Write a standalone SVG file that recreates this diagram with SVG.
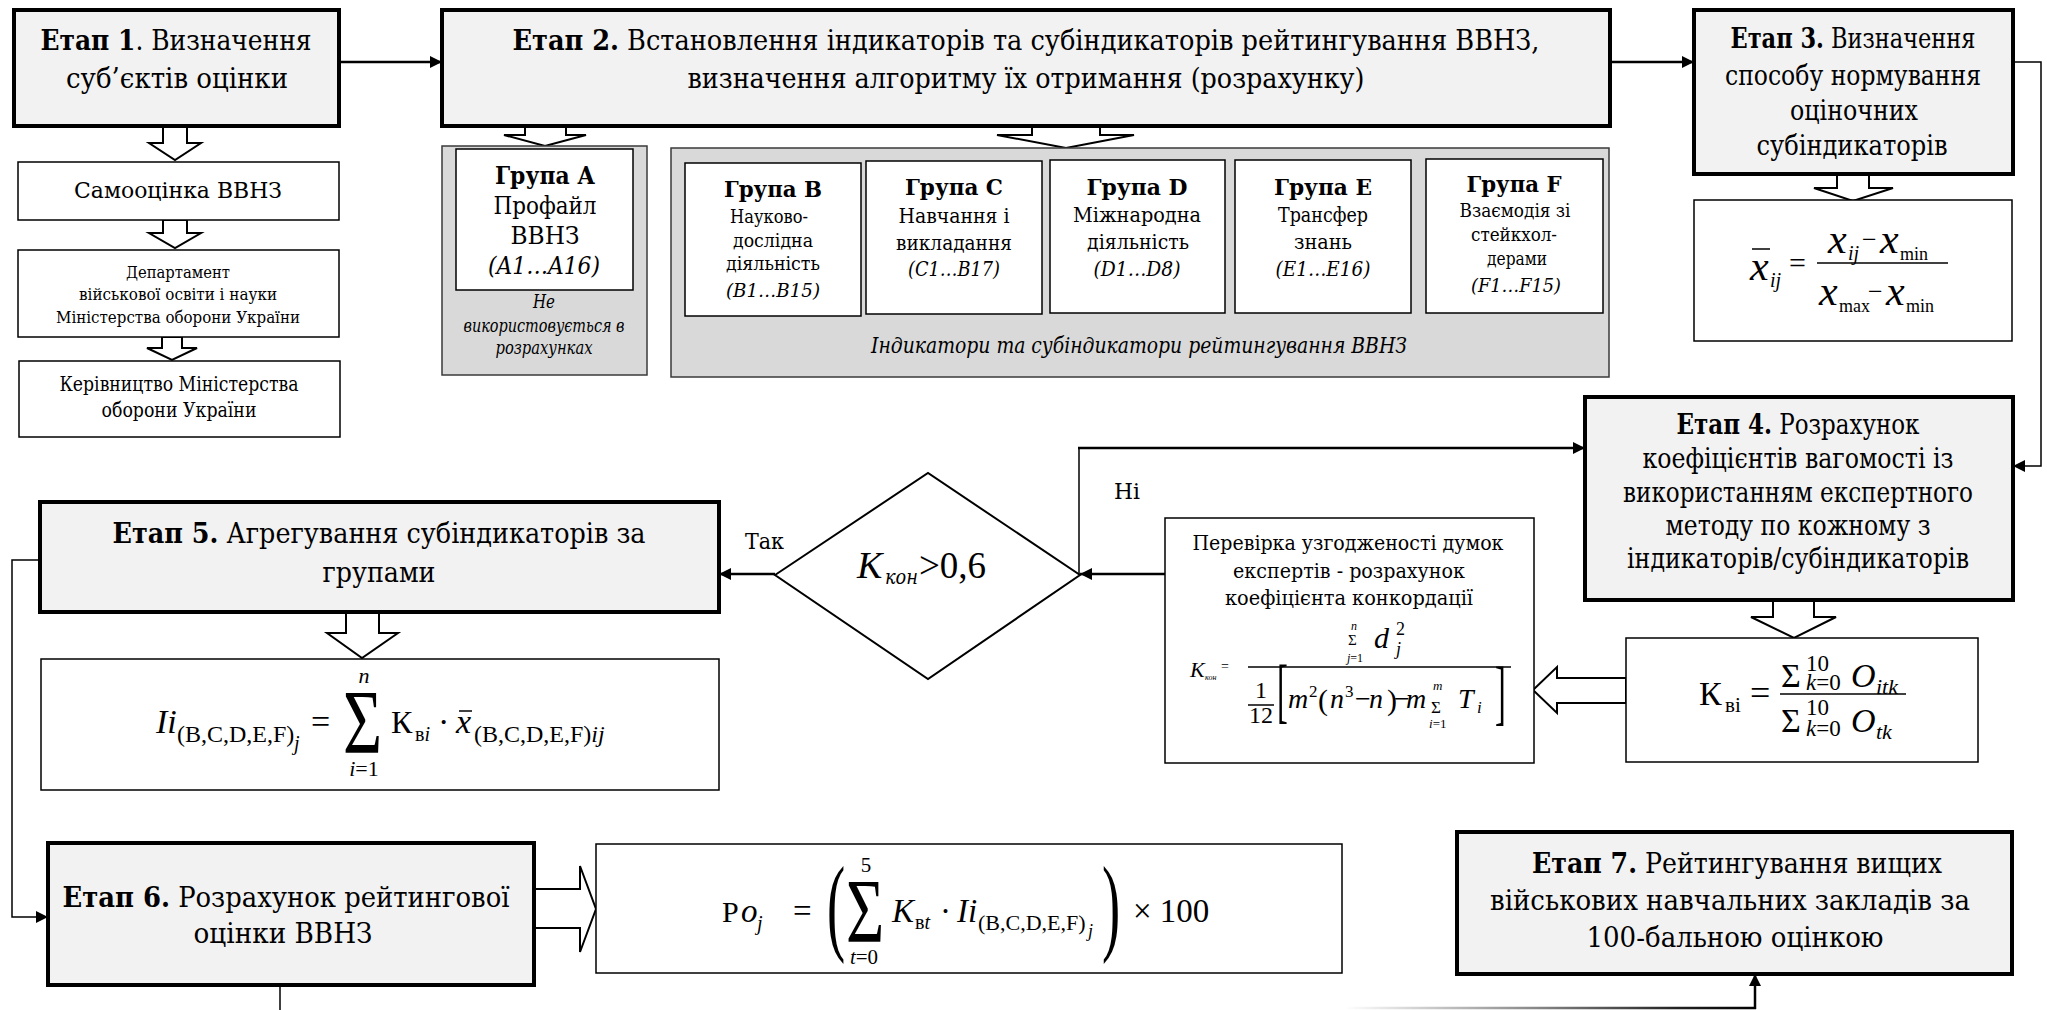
<svg xmlns="http://www.w3.org/2000/svg" width="2047" height="1010" viewBox="0 0 2047 1010">
<defs>
<style>
.stage{fill:#f2f2f2;stroke:#000;stroke-width:4}
.box{fill:#fff;stroke:#000;stroke-width:1.5}
.gray{fill:#d9d9d9;stroke:#3a3a3a;stroke-width:1.5}
.block{fill:#fff;stroke:#000;stroke-width:2;stroke-linejoin:miter}
.t{font-family:"DejaVu Serif Condensed","DejaVu Serif","Liberation Serif",serif;fill:#000}
.f{font-family:"Liberation Serif","DejaVu Serif",serif;fill:#000}
.st{font-size:28px;text-anchor:middle}
.b{font-weight:bold}
.i{font-style:italic}
.n{font-style:normal}
.m{text-anchor:middle}
.conn{stroke:#000;fill:none;stroke-width:2.5}
.thin{stroke-width:1.5}
.mline{stroke:#000;stroke-width:1.5}
</style>
<marker id="ah" viewBox="0 0 10 10" refX="10" refY="5" markerWidth="14" markerHeight="12" markerUnits="userSpaceOnUse" orient="auto">
<path d="M0,0 L10,5 L0,10 z" fill="#000"/>
</marker>
<linearGradient id="fade" gradientUnits="userSpaceOnUse" x1="1345" y1="0" x2="1760" y2="0">
<stop offset="0" stop-color="#ffffff"/>
<stop offset="0.45" stop-color="#8a8a8a"/>
<stop offset="0.8" stop-color="#222"/>
<stop offset="1" stop-color="#000"/>
</linearGradient>
</defs>
<rect width="2047" height="1010" fill="#fff"/>

<!-- Connectors -->
<g id="connectors">
<line class="conn" x1="339" y1="62" x2="442" y2="62" marker-end="url(#ah)"/>
<line class="conn" x1="1610" y1="62" x2="1694" y2="62" marker-end="url(#ah)"/>
<polyline class="conn thin" points="2013,62 2041,62 2041,466 2013,466" marker-end="url(#ah)"/>
<line class="conn" x1="1165" y1="574" x2="1080" y2="574" marker-end="url(#ah)"/>
<line class="conn" x1="775" y1="574" x2="719" y2="574" marker-end="url(#ah)"/>
<line class="conn thin" x1="1079" y1="574" x2="1079" y2="448"/>
<line class="conn" x1="1078" y1="448" x2="1585" y2="448" marker-end="url(#ah)"/>
<polyline class="conn thin" points="40,560 12,560 12,917 48,917" marker-end="url(#ah)"/>
<line class="conn thin" x1="280" y1="985" x2="280" y2="1010"/>
<line x1="1345" y1="1008" x2="1756" y2="1008" stroke="url(#fade)" stroke-width="2.5"/>
<line class="conn" x1="1755" y1="1009" x2="1755" y2="974" marker-end="url(#ah)"/>
<!-- block arrows -->
<polygon class="block" points="163,126 163,143 149,143 175,160 201,143 187,143 187,126"/>
<polygon class="block" points="163,220 163,233 149,233 175,248 201,233 187,233 187,220"/>
<polygon class="block" points="162,337 162,348 147,348 172,360 197,348 182,348 182,337"/>
<polygon class="block" points="525,126 525,135 504,135 545,146 586,135 566,135 566,126"/>
<polygon class="block" points="1032,126 1032,135 997,135 1066,148 1134,135 1100,135 1100,126"/>
<polygon class="block" points="1837,174 1837,188 1814,188 1853,201 1893,188 1869,188 1869,174"/>
<polygon class="block" points="1773,600 1773,617 1751,617 1794,638 1836,617 1814,617 1814,600"/>
<polygon class="block" points="1626,678 1557,678 1557,667 1533,690 1557,713 1557,703 1626,703"/>
<polygon class="block" points="346,612 346,633 327,633 362,658 398,633 379,633 379,612"/>
<polygon class="block" points="534,889 580,889 580,866 596,909 580,952 580,928 534,928"/>
</g>

<!-- Etap 1 -->
<g id="etap1">
<rect class="stage" x="14" y="10" width="325" height="116"/>
<text class="t st" x="176" y="50" textLength="271" lengthAdjust="spacingAndGlyphs"><tspan class="b">Етап 1</tspan>. Визначення</text>
<text class="t st" x="177" y="88" textLength="222" lengthAdjust="spacingAndGlyphs">суб’єктів оцінки</text>
</g>
<g id="samoocinka">
<rect class="box" x="18" y="162" width="321" height="58"/>
<text class="t m" x="178" y="198" font-size="23" textLength="208" lengthAdjust="spacingAndGlyphs">Самооцінка ВВНЗ</text>
</g>
<g id="department">
<rect class="box" x="18" y="250" width="321" height="87"/>
<text class="t m" x="178" y="278" font-size="17" textLength="104" lengthAdjust="spacingAndGlyphs">Департамент</text>
<text class="t m" x="178" y="300" font-size="17" textLength="198" lengthAdjust="spacingAndGlyphs">військової освіти і науки</text>
<text class="t m" x="178" y="323" font-size="17" textLength="244" lengthAdjust="spacingAndGlyphs">Міністерства оборони України</text>
</g>
<g id="kerivnytstvo">
<rect class="box" x="19" y="361" width="321" height="76"/>
<text class="t m" x="179" y="391" font-size="20" textLength="239" lengthAdjust="spacingAndGlyphs">Керівництво Міністерства</text>
<text class="t m" x="179" y="417" font-size="20" textLength="155" lengthAdjust="spacingAndGlyphs">оборони України</text>
</g>

<!-- Etap 2 -->
<g id="etap2">
<rect class="stage" x="442" y="10" width="1168" height="116"/>
<text class="t st" x="1026" y="50" textLength="1027" lengthAdjust="spacingAndGlyphs"><tspan class="b">Етап 2.</tspan> Встановлення індикаторів та субіндикаторів рейтингування ВВНЗ,</text>
<text class="t st" x="1026" y="88" textLength="677" lengthAdjust="spacingAndGlyphs">визначення алгоритму їх отримання (розрахунку)</text>
</g>

<!-- Group A -->
<g id="groupA">
<rect class="gray" x="442" y="146" width="205" height="229"/>
<rect class="box" x="456" y="149" width="177" height="141"/>
<text class="t m b" x="545" y="184" font-size="24" textLength="100" lengthAdjust="spacingAndGlyphs">Група А</text>
<text class="t m" x="545" y="214" font-size="24" textLength="103" lengthAdjust="spacingAndGlyphs">Профайл</text>
<text class="t m" x="545" y="244" font-size="24" textLength="69" lengthAdjust="spacingAndGlyphs">ВВНЗ</text>
<text class="t m i" x="544" y="274" font-size="24" textLength="112" lengthAdjust="spacingAndGlyphs">(A1…A16)</text>
<text class="t m i" x="544" y="308" font-size="18" textLength="22" lengthAdjust="spacingAndGlyphs">Не</text>
<text class="t m i" x="544" y="332" font-size="18" textLength="161" lengthAdjust="spacingAndGlyphs">використовується в</text>
<text class="t m i" x="544" y="354" font-size="18" textLength="97" lengthAdjust="spacingAndGlyphs">розрахунках</text>
</g>

<!-- Groups B-F -->
<g id="groupsBF">
<rect class="gray" x="671" y="148" width="938" height="229"/>
<text class="t m i" x="1139" y="353" font-size="22" textLength="536" lengthAdjust="spacingAndGlyphs">Індикатори та субіндикатори рейтингування ВВНЗ</text>
</g>
<g id="groupB">
<rect class="box" x="685" y="163" width="176" height="153"/>
<text class="t m b" x="773" y="197" font-size="23" textLength="98" lengthAdjust="spacingAndGlyphs">Група В</text>
<text class="t m" x="769" y="223" font-size="18" textLength="78" lengthAdjust="spacingAndGlyphs">Науково-</text>
<text class="t m" x="773" y="247" font-size="18" textLength="80" lengthAdjust="spacingAndGlyphs">дослідна</text>
<text class="t m" x="773" y="270" font-size="18" textLength="94" lengthAdjust="spacingAndGlyphs">діяльність</text>
<text class="t m i" x="773" y="297" font-size="18" textLength="94" lengthAdjust="spacingAndGlyphs">(B1…B15)</text>
</g>
<g id="groupC">
<rect class="box" x="866" y="161" width="176" height="153"/>
<text class="t m b" x="954" y="195" font-size="23" textLength="98" lengthAdjust="spacingAndGlyphs">Група С</text>
<text class="t m" x="954" y="223" font-size="21" textLength="111" lengthAdjust="spacingAndGlyphs">Навчання і</text>
<text class="t m" x="954" y="250" font-size="21" textLength="116" lengthAdjust="spacingAndGlyphs">викладання</text>
<text class="t m i" x="954" y="276" font-size="20" textLength="92" lengthAdjust="spacingAndGlyphs">(C1…B17)</text>
</g>
<g id="groupD">
<rect class="box" x="1050" y="160" width="175" height="153"/>
<text class="t m b" x="1137" y="195" font-size="23" textLength="101" lengthAdjust="spacingAndGlyphs">Група D</text>
<text class="t m" x="1137" y="222" font-size="21" textLength="128" lengthAdjust="spacingAndGlyphs">Міжнародна</text>
<text class="t m" x="1138" y="249" font-size="21" textLength="102" lengthAdjust="spacingAndGlyphs">діяльність</text>
<text class="t m i" x="1137" y="276" font-size="20" textLength="87" lengthAdjust="spacingAndGlyphs">(D1…D8)</text>
</g>
<g id="groupE">
<rect class="box" x="1235" y="160" width="176" height="153"/>
<text class="t m b" x="1323" y="195" font-size="23" textLength="98" lengthAdjust="spacingAndGlyphs">Група Е</text>
<text class="t m" x="1323" y="222" font-size="21" textLength="90" lengthAdjust="spacingAndGlyphs">Трансфер</text>
<text class="t m" x="1323" y="249" font-size="21" textLength="58" lengthAdjust="spacingAndGlyphs">знань</text>
<text class="t m i" x="1323" y="276" font-size="20" textLength="95" lengthAdjust="spacingAndGlyphs">(E1…E16)</text>
</g>
<g id="groupF">
<rect class="box" x="1426" y="159" width="177" height="154"/>
<text class="t m b" x="1514" y="192" font-size="23" textLength="95" lengthAdjust="spacingAndGlyphs">Група F</text>
<text class="t m" x="1515" y="217" font-size="18" textLength="111" lengthAdjust="spacingAndGlyphs">Взаємодія зі</text>
<text class="t m" x="1514" y="241" font-size="18" textLength="86" lengthAdjust="spacingAndGlyphs">стейкхол-</text>
<text class="t m" x="1517" y="265" font-size="18" textLength="60" lengthAdjust="spacingAndGlyphs">дерами</text>
<text class="t m i" x="1516" y="292" font-size="18" textLength="90" lengthAdjust="spacingAndGlyphs">(F1…F15)</text>
</g>

<!-- Etap 3 -->
<g id="etap3">
<rect class="stage" x="1694" y="10" width="319" height="164"/>
<text class="t st" x="1853" y="48" textLength="245" lengthAdjust="spacingAndGlyphs"><tspan class="b">Етап 3.</tspan> Визначення</text>
<text class="t st" x="1853" y="85" textLength="256" lengthAdjust="spacingAndGlyphs">способу нормування</text>
<text class="t st" x="1854" y="120" textLength="128" lengthAdjust="spacingAndGlyphs">оціночних</text>
<text class="t st" x="1852" y="155" textLength="191" lengthAdjust="spacingAndGlyphs">субіндикаторів</text>
</g>
<g id="formula-norm">
<rect class="box" x="1694" y="200" width="318" height="141"/>
<line class="mline" x1="1752" y1="249" x2="1770" y2="249" stroke-width="2"/>
<text class="f i" x="1750" y="280" font-size="42">x</text>
<text class="f i" x="1770" y="287" font-size="20">ij</text>
<text class="f" x="1789" y="273" font-size="30">=</text>
<text class="f i" x="1828" y="253" font-size="42">x</text>
<text class="f i" x="1848" y="260" font-size="20">ij</text>
<text class="f" x="1862" y="248" font-size="26">−</text>
<text class="f i" x="1880" y="253" font-size="42">x</text>
<text class="f" x="1900" y="260" font-size="18">min</text>
<line class="mline" x1="1817" y1="263" x2="1948" y2="263"/>
<text class="f i" x="1819" y="305" font-size="42">x</text>
<text class="f" x="1839" y="312" font-size="18">max</text>
<text class="f" x="1868" y="300" font-size="26">−</text>
<text class="f i" x="1886" y="305" font-size="42">x</text>
<text class="f" x="1906" y="312" font-size="18">min</text>
</g>

<!-- Etap 4 -->
<g id="etap4">
<rect class="stage" x="1585" y="397" width="428" height="203"/>
<text class="t st" x="1798" y="434" textLength="243" lengthAdjust="spacingAndGlyphs"><tspan class="b">Етап 4.</tspan> Розрахунок</text>
<text class="t st" x="1798" y="468" textLength="311" lengthAdjust="spacingAndGlyphs">коефіцієнтів вагомості із</text>
<text class="t st" x="1798" y="502" textLength="350" lengthAdjust="spacingAndGlyphs">використанням експертного</text>
<text class="t st" x="1798" y="535" textLength="265" lengthAdjust="spacingAndGlyphs">методу по кожному з</text>
<text class="t st" x="1798" y="568" textLength="342" lengthAdjust="spacingAndGlyphs">індикаторів/субіндикаторів</text>
</g>
<g id="formula-kv">
<rect class="box" x="1626" y="638" width="352" height="124"/>
<text class="f" x="1699" y="705" font-size="34">К</text>
<text class="f" x="1725" y="712" font-size="21">ві</text>
<text class="f" x="1750" y="705" font-size="36">=</text>
<text class="f" x="1781" y="687" font-size="34">Σ</text>
<text class="f" x="1806" y="671" font-size="23">10</text>
<text class="f" x="1806" y="690" font-size="23"><tspan class="i">k</tspan>=0</text>
<text class="f i" x="1851" y="687" font-size="34">O</text>
<text class="f i" x="1876" y="694" font-size="22">itk</text>
<line class="mline" x1="1780" y1="694" x2="1906" y2="694" stroke-width="2"/>
<text class="f" x="1781" y="732" font-size="34">Σ</text>
<text class="f" x="1806" y="715" font-size="23">10</text>
<text class="f" x="1806" y="736" font-size="23"><tspan class="i">k</tspan>=0</text>
<text class="f i" x="1851" y="732" font-size="34">O</text>
<text class="f i" x="1876" y="739" font-size="22">tk</text>
</g>

<!-- Concordance check -->
<g id="concordance">
<rect class="box" x="1165" y="518" width="369" height="245"/>
<text class="t m" x="1348" y="550" font-size="20" textLength="311" lengthAdjust="spacingAndGlyphs">Перевірка узгодженості думок</text>
<text class="t m" x="1349" y="578" font-size="20" textLength="232" lengthAdjust="spacingAndGlyphs">експертів - розрахунок</text>
<text class="t m" x="1349" y="605" font-size="20" textLength="248" lengthAdjust="spacingAndGlyphs">коефіцієнта конкордації</text>
<text class="f i" x="1190" y="677" font-size="22">K</text>
<text class="f i" x="1205" y="680" font-size="8">кон</text>
<text class="f" x="1221" y="671" font-size="14">=</text>
<text class="f" x="1348" y="645" font-size="15">Σ</text>
<text class="f i" x="1351" y="630" font-size="12">n</text>
<text class="f" x="1347" y="662" font-size="12"><tspan class="i">j</tspan>=1</text>
<text class="f i" x="1374" y="648" font-size="30">d</text>
<text class="f" x="1396" y="635" font-size="18">2</text>
<text class="f i" x="1396" y="655" font-size="18">j</text>
<line class="mline" x1="1248" y1="667" x2="1511" y2="667" stroke-width="1.2"/>
<text class="f" x="1255" y="698" font-size="24">1</text>
<line class="mline" x1="1248" y1="705" x2="1274" y2="705" stroke-width="1.2"/>
<text class="f" x="1249" y="723" font-size="24">12</text>
<text class="f" transform="translate(1277,714) scale(0.45,1)" font-size="72">[</text>
<text class="f i" x="1288" y="708" font-size="28">m</text>
<text class="f" x="1309" y="697" font-size="17">2</text>
<text class="f" x="1318" y="710" font-size="30">(</text>
<text class="f i" x="1330" y="708" font-size="28">n</text>
<text class="f" x="1345" y="697" font-size="17">3</text>
<text class="f" x="1355" y="708" font-size="28">−</text>
<text class="f i" x="1369" y="708" font-size="28">n</text>
<text class="f" x="1387" y="710" font-size="30">)</text>
<text class="f" x="1394" y="708" font-size="28">−</text>
<text class="f i" x="1406" y="708" font-size="28">m</text>
<text class="f" x="1431" y="713" font-size="17">Σ</text>
<text class="f i" x="1433" y="690" font-size="13">m</text>
<text class="f" x="1429" y="728" font-size="13"><tspan class="i">i</tspan>=1</text>
<text class="f i" x="1458" y="708" font-size="28">T</text>
<text class="f i" x="1477" y="713" font-size="17">i</text>
<text class="f" transform="translate(1495,716) scale(0.45,1)" font-size="72">]</text>
</g>

<!-- Decision -->
<g id="decision">
<polygon points="775,575 928,473 1080,575 928,679" fill="#fff" stroke="#000" stroke-width="2"/>
<text class="f i" x="857" y="578" font-size="38">K</text>
<text class="t i" x="885" y="584" font-size="20" textLength="33" lengthAdjust="spacingAndGlyphs">кон</text>
<text class="f" x="919" y="578" font-size="37">&gt;0,6</text>
</g>
<text id="label-tak" class="t" x="745" y="549" font-size="22" textLength="39" lengthAdjust="spacingAndGlyphs">Так</text>
<text id="label-ni" class="t" x="1114" y="499" font-size="22" textLength="26" lengthAdjust="spacingAndGlyphs">Ні</text>

<!-- Etap 5 -->
<g id="etap5">
<rect class="stage" x="40" y="502" width="679" height="110"/>
<text class="t st" x="379" y="543" textLength="533" lengthAdjust="spacingAndGlyphs"><tspan class="b">Етап 5.</tspan> Агрегування субіндикаторів за</text>
<text class="t st" x="379" y="582" textLength="113" lengthAdjust="spacingAndGlyphs">групами</text>
</g>
<g id="formula-agg">
<rect class="box" x="41" y="659" width="678" height="131"/>
<text class="f i" x="156" y="733" font-size="34">Ii</text>
<text class="f" x="177" y="742" font-size="24">(B,C,D,E,F)</text>
<text class="f i" x="294" y="750" font-size="20">j</text>
<text class="f" x="311" y="733" font-size="34">=</text>
<text class="f" transform="translate(343,753) scale(0.73,1)" font-size="92">Σ</text>
<text class="f i m" x="364" y="683" font-size="22">n</text>
<text class="f m" x="364" y="776" font-size="22"><tspan class="i">i</tspan>=1</text>
<text class="f" x="391" y="733" font-size="32">К</text>
<text class="f" x="415" y="741" font-size="20">в<tspan class="i">i</tspan></text>
<text class="f" x="438" y="733" font-size="34">·</text>
<text class="f i" x="456" y="733" font-size="34">x</text>
<line class="mline" x1="459" y1="711" x2="472" y2="711"/>
<text class="f" x="474" y="742" font-size="24">(B,C,D,E,F)<tspan class="i">ij</tspan></text>
</g>

<!-- Etap 6 -->
<g id="etap6">
<rect class="stage" x="48" y="843" width="486" height="142"/>
<text class="t st" x="286" y="907" textLength="447" lengthAdjust="spacingAndGlyphs"><tspan class="b">Етап 6.</tspan> Розрахунок рейтингової</text>
<text class="t st" x="283" y="943" textLength="179" lengthAdjust="spacingAndGlyphs">оцінки ВВНЗ</text>
</g>
<g id="formula-rating">
<rect class="box" x="596" y="844" width="746" height="129"/>
<text class="f" x="722" y="922" font-size="30">Р</text>
<text class="f i" x="741" y="922" font-size="33">o</text>
<text class="f i" x="757" y="930" font-size="20">j</text>
<text class="f" x="793" y="922" font-size="33">=</text>
<text class="f" transform="translate(827,941) scale(0.5,1)" font-size="109">(</text>
<text class="f" transform="translate(846,942) scale(0.73,1)" font-size="90">Σ</text>
<text class="f m" x="866" y="872" font-size="21">5</text>
<text class="f m" x="864" y="964" font-size="21"><tspan class="i">t</tspan>=0</text>
<text class="f i" x="892" y="922" font-size="33">K</text>
<text class="f" x="915" y="929" font-size="20">в<tspan class="i">t</tspan></text>
<text class="f" x="940" y="922" font-size="33">·</text>
<text class="f i" x="957" y="922" font-size="33">Ii</text>
<text class="f" x="978" y="930" font-size="22">(B,C,D,E,F)</text>
<text class="f i" x="1088" y="937" font-size="18">j</text>
<text class="f" transform="translate(1102,941) scale(0.5,1)" font-size="109">)</text>
<text class="f" x="1133" y="922" font-size="33">× 100</text>
</g>

<!-- Etap 7 -->
<g id="etap7">
<rect class="stage" x="1457" y="832" width="555" height="142"/>
<text class="t st" x="1737" y="873" textLength="410" lengthAdjust="spacingAndGlyphs"><tspan class="b">Етап 7.</tspan> Рейтингування вищих</text>
<text class="t st" x="1730" y="910" textLength="480" lengthAdjust="spacingAndGlyphs">військових навчальних закладів за</text>
<text class="t st" x="1735" y="947" textLength="297" lengthAdjust="spacingAndGlyphs">100-бальною оцінкою</text>
</g>
</svg>
